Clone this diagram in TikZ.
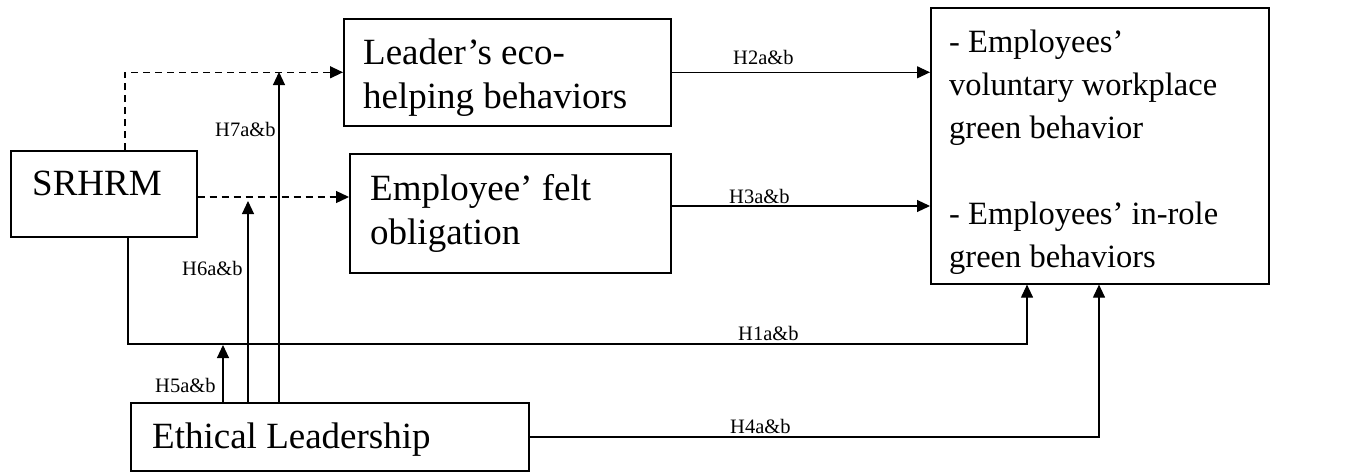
\documentclass[tikz,border=0pt]{standalone}
\usepackage{fontspec}
\setmainfont{Liberation Serif}
\usetikzlibrary{arrows.meta}
\begin{document}
\begin{tikzpicture}[x=1pt,y=-1pt,
  box/.style={draw, line width=1.6pt, inner sep=0pt, anchor=north west},
  txt/.style={anchor=base west, inner sep=0pt, font=\fontsize{37}{44}\selectfont, align=left},
  lbl/.style={anchor=base west, inner sep=0pt, font=\fontsize{20.5}{22}\selectfont},
  conn/.style={line width=1.1pt},
  arr/.style={conn, -{Triangle[length=13pt,width=12pt]}},
  dashconn/.style={arr, line width=1.3pt, dash pattern=on 7pt off 5pt}]
\useasboundingbox (0,0) rectangle (1354,472);
% boxes
\node[box, minimum width=186pt, minimum height=86pt] (srhrm) at (10,150) {};
\node[box, minimum width=327pt, minimum height=107pt] (leader) at (343,18) {};
\node[box, minimum width=321pt, minimum height=119pt] (employee) at (349,153) {};
\node[box, minimum width=338pt, minimum height=276pt] (outcome) at (930,7) {};
\node[box, minimum width=398pt, minimum height=68pt] (ethical) at (130,402) {};
% texts (base anchor = baseline of the last line)
\node[txt] (tsrhrm) at (32,195) {SRHRM};
\node[txt] (tleader) at (363,108) {Leader’s eco-\\helping behaviors};
\node[txt] (temployee) at (370,244) {Employee’ felt\\obligation};
\node[txt, font=\fontsize{32.5}{43}\selectfont] (toutcome) at (949,267) {- Employees’\\voluntary workplace\\green behavior\\[43pt]- Employees’ in-role\\green behaviors};
\node[txt] (tethical) at (152,448) {Ethical Leadership};
% coordinates
\coordinate (d1) at (125,72);
\coordinate (y2) at (0,197);
\coordinate (y3) at (0,206);
\coordinate (h1a) at (128,344);
\coordinate (h1b) at (1027,344);
\coordinate (h4) at (1099,437);
\coordinate (h5) at (223,345);
\coordinate (h6) at (248,201);
\coordinate (h7) at (279,72);
% connectors
\draw[dashconn] (srhrm.north -| d1) |- (leader.west);
\draw[dashconn] (srhrm.east |- y2) -- (employee.west |- y2);
\draw[arr] (leader.east) -- (outcome.west |- leader.east);
\draw[arr] (employee.east |- y3) -- (outcome.west |- y3);
\draw[arr] (srhrm.south -| h1a) -- (h1a) -- (h1b) -- (outcome.south -| h1b);
\draw[arr] (ethical.east |- h4) -- (h4) -- (outcome.south -| h4);
\draw[arr] (ethical.north -| h5) -- (h5);
\draw[arr] (ethical.north -| h6) -- (h6);
\draw[arr] (ethical.north -| h7) -- (h7);
% labels
\node[lbl] (l7) at (215,136) {H7a\&b};
\node[lbl] (l6) at (182,275) {H6a\&b};
\node[lbl] (l5) at (155,392) {H5a\&b};
\node[lbl] (l2) at (733,64) {H2a\&b};
\node[lbl] (l3) at (729,203) {H3a\&b};
\node[lbl] (l1) at (738,340) {H1a\&b};
\node[lbl] (l4) at (730,433) {H4a\&b};
\end{tikzpicture}
\end{document}
